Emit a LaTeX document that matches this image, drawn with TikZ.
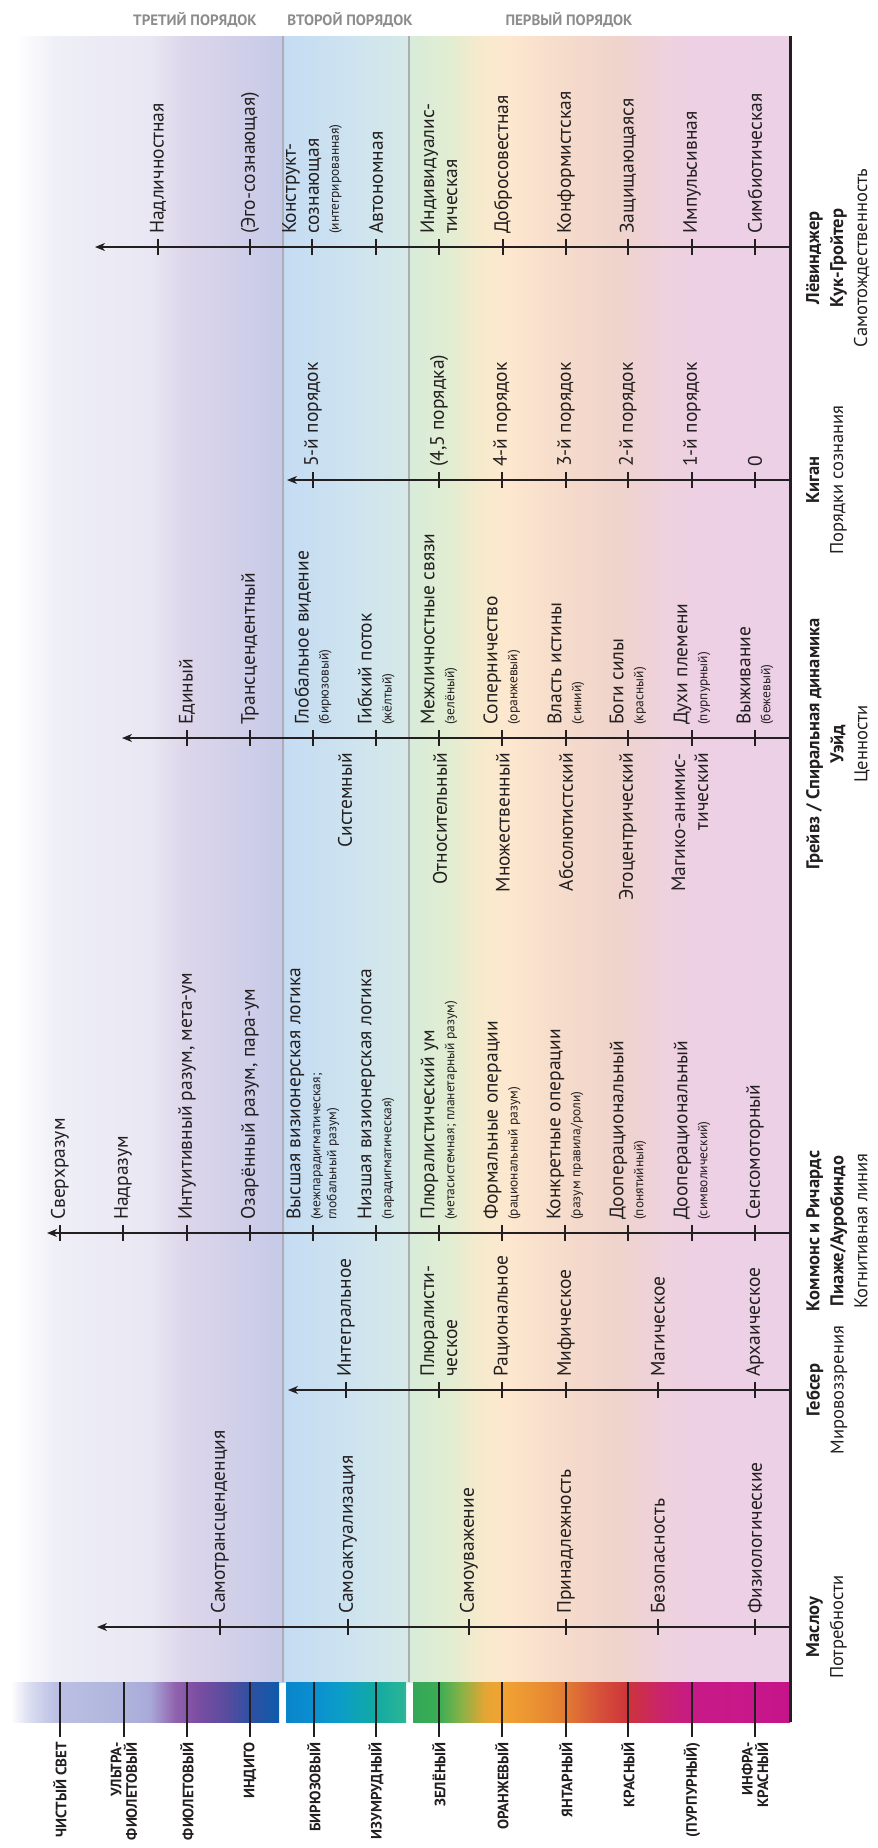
\documentclass[tikz,border=0pt]{standalone}
\usepackage{fontspec}
\setmainfont{PT Sans}
\usetikzlibrary{arrows.meta}
\definecolor{txt}{HTML}{231F20}
\definecolor{hdrc}{HTML}{8C8C8C}
\definecolor{sepc}{HTML}{ADAEB3}
% band colours
\definecolor{b01}{HTML}{EFEFF7}
\definecolor{b02}{HTML}{E9E7F3}
\definecolor{b03}{HTML}{DCD6EA}
\definecolor{b04}{HTML}{D0CFE9}
\definecolor{b05}{HTML}{C6CAE8}
\definecolor{b06}{HTML}{C5DCF3}
\definecolor{b07}{HTML}{CCE2F0}
\definecolor{b08}{HTML}{D5E9E8}
\definecolor{b09}{HTML}{D8ECD8}
\definecolor{b10}{HTML}{E2EDD2}
\definecolor{b11}{HTML}{F6EACC}
\definecolor{b12}{HTML}{FDE8CF}
\definecolor{b13}{HTML}{F6DCCB}
\definecolor{b14}{HTML}{EFD3CC}
\definecolor{b15}{HTML}{EED2DC}
\definecolor{b16}{HTML}{EDD0E4}
\definecolor{b17}{HTML}{ECD0E6}
% bar colours
\definecolor{a01}{HTML}{DADCF0}
\definecolor{a02}{HTML}{BCC0E3}
\definecolor{a03}{HTML}{AEB4DC}
\definecolor{a04}{HTML}{A9A9D8}
\definecolor{a05}{HTML}{9063AE}
\definecolor{a06}{HTML}{7E4EA2}
\definecolor{a07}{HTML}{5A4C9E}
\definecolor{a08}{HTML}{2E50A2}
\definecolor{a09}{HTML}{0F5BAA}
\definecolor{c01}{HTML}{0A86CB}
\definecolor{c02}{HTML}{0A8FD0}
\definecolor{c03}{HTML}{0C9DC8}
\definecolor{c04}{HTML}{12AAA2}
\definecolor{c05}{HTML}{2DB596}
\definecolor{d01}{HTML}{34A858}
\definecolor{d02}{HTML}{3BAD55}
\definecolor{d03}{HTML}{8BB246}
\definecolor{d04}{HTML}{E5A534}
\definecolor{d05}{HTML}{F2A333}
\definecolor{d06}{HTML}{E98E32}
\definecolor{d07}{HTML}{E17A33}
\definecolor{d08}{HTML}{D6503A}
\definecolor{d09}{HTML}{CD343B}
\definecolor{d10}{HTML}{C9246A}
\definecolor{d11}{HTML}{C71A86}
\definecolor{d12}{HTML}{C8178A}
\definecolor{d13}{HTML}{C5148A}
\pgfdeclarehorizontalshading{bandshade}{100bp}{color(0bp)=(white); color(25bp)=(white); color(25.949bp)=(white); color(28.481bp)=(b01); color(34.494bp)=(b02); color(36.709bp)=(b03); color(40.190bp)=(b04); color(42.785bp)=(b05); color(43.038bp)=(b06); color(46.519bp)=(b07); color(50.633bp)=(b08); color(51.076bp)=(b09); color(53.481bp)=(b10); color(55.380bp)=(b11); color(56.962bp)=(b12); color(60.443bp)=(b13); color(64.241bp)=(b14); color(66.772bp)=(b15); color(69.304bp)=(b16); color(75bp)=(b17); color(100bp)=(b17)}
\pgfdeclarehorizontalshading{barA}{100bp}{color(0bp)=(white); color(25bp)=(white); color(28.545bp)=(a01); color(33.209bp)=(a02); color(46.082bp)=(a03); color(50.933bp)=(a04); color(55.597bp)=(a05); color(59.328bp)=(a06); color(64.925bp)=(a07); color(69.590bp)=(a08); color(75bp)=(a09); color(100bp)=(a09)}
\pgfdeclarehorizontalshading{barB}{100bp}{color(0bp)=(c01); color(25bp)=(c01); color(36.667bp)=(c02); color(47.5bp)=(c03); color(62.5bp)=(c04); color(75bp)=(c05); color(100bp)=(c05)}
\pgfdeclarehorizontalshading{barC}{100bp}{color(0bp)=(d01); color(25bp)=(d01); color(28.448bp)=(d02); color(31.499bp)=(d03); color(34.549bp)=(d04); color(36.804bp)=(d05); color(41.844bp)=(d06); color(45.292bp)=(d07); color(49.801bp)=(d08); color(53.515bp)=(d09); color(57.759bp)=(d10); color(62.003bp)=(d11); color(70.358bp)=(d12); color(75bp)=(d13); color(100bp)=(d13)}
\newcommand\smtxt[1]{{\fontsize{13.5}{15}\selectfont #1}}
\newcommand\mytick[4]{%
  \draw[tickline] (#2,#3-8) -- (#2,#3+8);
  \node[lbl] (#1) at (#2,#3-13) {#4};}
\tikzset{
  lbl/.style={rotate=90, anchor=west, inner sep=0pt, align=left, text=txt, font=\fontsize{19.5}{23}\selectfont},
  wade/.style={rotate=90, anchor=east, inner sep=0pt, align=right, text=txt, font=\fontsize{19.5}{23}\selectfont},
  theo/.style={rotate=90, anchor=north, inner sep=0pt, align=center, text=txt, font=\fontsize{18.5}{24}\selectfont},
  collbl/.style={rotate=90, anchor=east, inner sep=0pt, align=right, text=txt, font=\bfseries\fontsize{15}{15.5}\selectfont},
  hdrlbl/.style={text=hdrc, inner sep=0pt, font=\bfseries\fontsize{15}{16}\selectfont},
  axisline/.style={line width=1.2pt, draw=txt, -{Stealth[length=10pt,width=8pt,inset=3pt]}},
  tickline/.style={line width=1.1pt, draw=txt},
  ctick/.style={line width=1.2pt, draw=txt},
  sepline/.style={line width=2.6pt, draw=sepc},
}
\begin{document}
\begin{tikzpicture}[x=1pt,y=-1pt]
\useasboundingbox (0,0) rectangle (878,1848);
% background bands
\shade[shading=bandshade] (0,36) rectangle (790,1682);
\draw[sepline] (283,36) -- (283,1682);
\draw[sepline] (409,36) -- (409,1682);
% colour bar
\shade[shading=barA] (11,1682) rectangle (279,1722);
\shade[shading=barB] (286,1682) rectangle (406,1722);
\shade[shading=barC] (413,1682) rectangle (790,1722);
\foreach \x in {60,124,187,250,314,376,439,502,566,628,692,755}
  \draw[ctick] (\x,1682) -- (\x,1737);
\draw[line width=3pt, txt] (790,36) -- (790,1722);
% headers
\node[hdrlbl] (h3) at (195,20) {ТРЕТИЙ ПОРЯДОК};
\node[hdrlbl] (h2) at (350,20) {ВТОРОЙ ПОРЯДОК};
\node[hdrlbl] (h1) at (569,20) {ПЕРВЫЙ ПОРЯДОК};
% colour labels
\node[collbl] (k1) at (60,1742) {ЧИСТЫЙ СВЕТ};
\node[collbl] (k2) at (124,1742) {УЛЬТРА-\\ФИОЛЕТОВЫЙ};
\node[collbl] (k3) at (187,1742) {ФИОЛЕТОВЫЙ};
\node[collbl] (k4) at (250,1742) {ИНДИГО};
\node[collbl] (k5) at (314,1742) {БИРЮЗОВЫЙ};
\node[collbl] (k6) at (376,1742) {ИЗУМРУДНЫЙ};
\node[collbl] (k7) at (439,1742) {ЗЕЛЁНЫЙ};
\node[collbl] (k8) at (502,1742) {ОРАНЖЕВЫЙ};
\node[collbl] (k9) at (566,1742) {ЯНТАРНЫЙ};
\node[collbl] (k10) at (628,1742) {КРАСНЫЙ};
\node[collbl] (k11) at (692,1742) {(ПУРПУРНЫЙ)};
\node[collbl] (k12) at (755,1742) {ИНФРА-\\КРАСНЫЙ};
% axes
\coordinate (loeS) at (790,247); \coordinate (loeE) at (95,247);
\coordinate (kegS) at (790,480); \coordinate (kegE) at (287,480);
\coordinate (graS) at (790,738); \coordinate (graE) at (122,738);
\coordinate (comS) at (790,1233); \coordinate (comE) at (47,1233);
\coordinate (gebS) at (790,1390); \coordinate (gebE) at (288,1390);
\coordinate (masS) at (790,1627); \coordinate (masE) at (97,1627);
\draw[axisline] (loeS) -- (loeE);
\draw[axisline] (kegS) -- (kegE);
\draw[axisline] (graS) -- (graE);
\draw[axisline] (comS) -- (comE);
\draw[axisline] (gebS) -- (gebE);
\draw[axisline] (masS) -- (masE);
% Loevinger
\mytick{lo1}{158}{247}{Надличностная}
\mytick{lo2}{250}{247}{(Эго-сознающая)}
\mytick{lo3}{312}{247}{Конструкт-\\сознающая\\[-3pt]\smtxt{(интегрированная)}}
\mytick{lo4}{376}{247}{Автономная}
\mytick{lo5}{439}{247}{Индивидуалис-\\тическая}
\mytick{lo6}{503}{247}{Добросовестная}
\mytick{lo7}{566}{247}{Конформистская}
\mytick{lo8}{628}{247}{Защищающаяся}
\mytick{lo9}{692}{247}{Импульсивная}
\mytick{lo10}{755}{247}{Симбиотическая}
% Kegan
\mytick{ke1}{313}{480}{5-й порядок}
\mytick{ke2}{439}{480}{(4,5 порядка)}
\mytick{ke3}{502}{480}{4-й порядок}
\mytick{ke4}{566}{480}{3-й порядок}
\mytick{ke5}{628}{480}{2-й порядок}
\mytick{ke6}{692}{480}{1-й порядок}
\mytick{ke7}{755}{480}{0}
% Graves
\mytick{gr1}{187}{738}{Единый}
\mytick{gr2}{250}{738}{Трансцендентный}
\mytick{gr3}{313}{738}{Глобальное видение\\[-3pt]\smtxt{(бирюзовый)}}
\mytick{gr4}{376}{738}{Гибкий поток\\[-3pt]\smtxt{(жёлтый)}}
\mytick{gr5}{439}{738}{Межличностные связи\\[-3pt]\smtxt{(зелёный)}}
\mytick{gr6}{502}{738}{Соперничество\\[-3pt]\smtxt{(оранжевый)}}
\mytick{gr7}{566}{738}{Власть истины\\[-3pt]\smtxt{(синий)}}
\mytick{gr8}{628}{738}{Боги силы\\[-3pt]\smtxt{(красный)}}
\mytick{gr9}{692}{738}{Духи племени\\[-3pt]\smtxt{(пурпурный)}}
\mytick{gr10}{755}{738}{Выживание\\[-3pt]\smtxt{(бежевый)}}
% Wade
\node[wade] (wa1) at (345,753) {Системный};
\node[wade] (wa2) at (440,753) {Относительный};
\node[wade] (wa3) at (503,753) {Множественный};
\node[wade] (wa4) at (566,753) {Абсолютистский};
\node[wade] (wa5) at (628,753) {Эгоцентрический};
\node[wade] (wa6) at (690,753) {Магико-анимис-\\тический};
% Commons
\mytick{co1}{60}{1233}{Сверхразум}
\mytick{co2}{123}{1233}{Надразум}
\mytick{co3}{187}{1233}{Интуитивный разум, мета-ум}
\mytick{co4}{250}{1233}{Озарённый разум, пара-ум}
\mytick{co5}{313}{1233}{Высшая визионерская логика\\[-3pt]\smtxt{(межпарадигматическая;}\\[-7pt]\smtxt{глобальный разум)}}
\mytick{co6}{376}{1233}{Низшая визионерская логика\\[-3pt]\smtxt{(парадигматическая)}}
\mytick{co7}{439}{1233}{Плюралистический ум\\[-3pt]\smtxt{(метасистемная; планетарный разум)}}
\mytick{co8}{502}{1233}{Формальные операции\\[-3pt]\smtxt{(рациональный разум)}}
\mytick{co9}{565}{1233}{Конкретные операции\\[-3pt]\smtxt{(разум правила/роли)}}
\mytick{co10}{628}{1233}{Дооперациональный\\[-3pt]\smtxt{(понятийный)}}
\mytick{co11}{692}{1233}{Дооперациональный\\[-3pt]\smtxt{(символический)}}
\mytick{co12}{755}{1233}{Сенсомоторный}
% Gebser
\mytick{ge1}{346}{1390}{Интегральное}
\mytick{ge2}{439}{1390}{Плюралисти-\\ческое}
\mytick{ge3}{502}{1390}{Рациональное}
\mytick{ge4}{566}{1390}{Мифическое}
\mytick{ge5}{658}{1390}{Магическое}
\mytick{ge6}{755}{1390}{Архаическое}
% Maslow
\mytick{ma1}{220}{1627}{Самотрансценденция}
\mytick{ma2}{348}{1627}{Самоактуализация}
\mytick{ma3}{469}{1627}{Самоуважение}
\mytick{ma4}{566}{1627}{Принадлежность}
\mytick{ma5}{658}{1627}{Безопасность}
\mytick{ma6}{755}{1627}{Физиологические}
% theorists
\node[theo] (th1) at (806,258) {\textbf{Лёвинджер}\\\textbf{Кук-Гройтер}\\Самотождественность};
\node[theo] (th2) at (806,480) {\textbf{Киган}\\Порядки сознания};
\node[theo] (th3) at (806,744) {\textbf{Грейвз / Спиральная динамика}\\\textbf{Уэйд}\\Ценности};
\node[theo] (th4) at (806,1231) {\textbf{Коммонс и Ричардс}\\\textbf{Пиаже/Ауробиндо}\\Когнитивная линия};
\node[theo] (th5) at (806,1390) {\textbf{Гебсер}\\Мировоззрения};
\node[theo] (th6) at (806,1627) {\textbf{Маслоу}\\Потребности};
\end{tikzpicture}
\end{document}
